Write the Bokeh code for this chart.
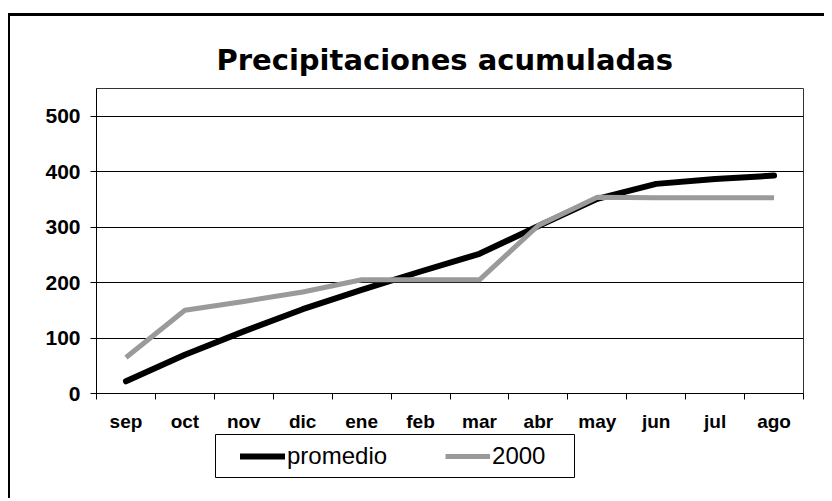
from bokeh.plotting import figure
from bokeh.models import FixedTicker, Legend, LegendItem, Range1d
from bokeh.layouts import column
from bokeh.embed import file_html
from bokeh.resources import INLINE

months = ["sep", "oct", "nov", "dic", "ene", "feb", "mar", "abr", "may", "jun", "jul", "ago"]
promedio = [22, 70, 112, 152, 187, 220, 252, 302, 351, 378, 387, 393]
anio_2000 = [65, 150, 166, 183, 205, 205, 205, 303, 354, 353, 353, 353]
y_ticks = [0, 100, 200, 300, 400, 500]
series_names = ["promedio", "2000"]

x = [i + 0.5 for i in range(len(months))]

BLACK_STYLE = dict(line_color="black", line_width=6, line_cap="round", line_join="round")
GRAY_STYLE = dict(line_color="#9a9a9a", line_width=5, line_join="round")

p = figure(width=814, height=418, x_range=Range1d(0, len(months)), y_range=Range1d(0, 550),
           output_backend="svg", toolbar_location=None,
           min_border_left=86, min_border_right=21, min_border_top=72, min_border_bottom=37,
           title="Precipitaciones acumuladas")

p.background_fill_color = "white"
p.border_fill_color = "white"
p.outline_line_color = "#333333"
p.outline_line_width = 1

p.title.text_font = "DejaVu Sans"
p.title.text_font_size = "29px"
p.title.text_font_style = "bold"
p.title.text_color = "black"
p.title.align = "left"
p.title.offset = 120
p.title.standoff = 23

p.line(x, promedio, **BLACK_STYLE)
p.line(x, anio_2000, **GRAY_STYLE)

# axes
p.xaxis.ticker = FixedTicker(ticks=x, minor_ticks=list(range(len(months) + 1)))
p.xaxis.major_label_overrides = {xx: m for xx, m in zip(x, months)}
p.xaxis.major_tick_out = 0
p.xaxis.major_tick_in = 0
p.xaxis.minor_tick_out = 6
p.xaxis.minor_tick_in = 0
p.xaxis.minor_tick_line_color = "black"
p.xaxis.axis_line_color = "black"
p.xaxis.major_label_text_font = "Liberation Sans"
p.xaxis.major_label_text_font_size = "19px"
p.xaxis.major_label_text_font_style = "bold"
p.xaxis.major_label_text_color = "black"
p.xaxis.major_label_standoff = 11

p.yaxis.ticker = FixedTicker(ticks=y_ticks)
p.yaxis.major_tick_out = 6
p.yaxis.major_tick_in = 0
p.yaxis.minor_tick_line_color = None
p.yaxis.axis_line_color = "black"
p.yaxis.major_tick_line_color = "black"
p.yaxis.major_label_text_font = "Liberation Sans"
p.yaxis.major_label_text_font_size = "21px"
p.yaxis.major_label_text_font_style = "bold"
p.yaxis.major_label_text_color = "black"
p.yaxis.major_label_standoff = 10

p.xgrid.grid_line_color = None
p.ygrid.grid_line_color = "black"
p.ygrid.grid_line_width = 1

# legend box (separate small figure placed under the axis; its frame is the legend border)
lg = figure(width=466, height=44, x_range=Range1d(0, 1), y_range=Range1d(0, 1),
            output_backend="svg", toolbar_location=None,
            min_border_left=86, min_border_right=21, min_border_top=0, min_border_bottom=0)
lg.margin = (0, 0, 0, 119)
lg.axis.visible = False
lg.grid.visible = False
lg.outline_line_color = "black"
lg.outline_line_width = 1
lg.background_fill_color = "white"
lg.border_fill_color = "white"
nan = float("nan")
s1 = lg.line([nan], [nan], **BLACK_STYLE)
s2 = lg.line([nan], [nan], **GRAY_STYLE)
legend = Legend(items=[LegendItem(label=series_names[0], renderers=[s1]),
                       LegendItem(label=series_names[1], renderers=[s2])],
                orientation="horizontal", location=(25, 8),
                glyph_width=45, glyph_height=24, label_standoff=2, spacing=58,
                padding=0, border_line_color=None, background_fill_alpha=0,
                label_text_font="Liberation Sans", label_text_font_size="24px",
                label_text_color="black")
lg.add_layout(legend)

layout = column(p, lg, styles={"border-top": "3px solid black", "border-left": "2px solid black",
                               "margin-top": "13px", "margin-left": "8px",
                               "padding-bottom": "20px"})

open("out.html", "w").write(file_html(layout, INLINE))
